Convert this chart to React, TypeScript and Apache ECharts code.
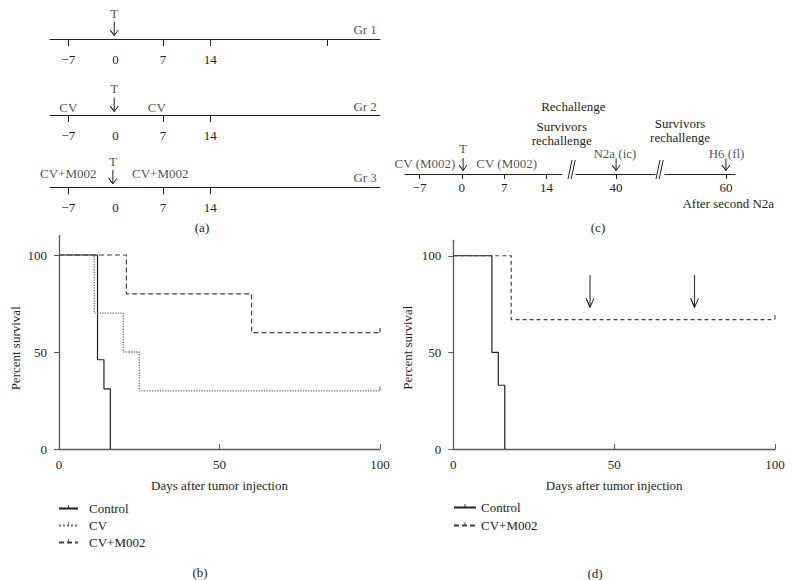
import React, { useEffect, useRef } from 'react';
import * as echarts from 'echarts';

const FONT = 'Liberation Serif, DejaVu Serif, serif';
const INK = '#231f20';
const AXIS_GRAY = '#58595b';

type Note = [number, number, string];

// ---------- Panel (a): treatment timelines ----------
const timelineLabelDays = [-7, 0, 7, 14];
const gr1TickDays = [-7, 7, 14, 31.3];
const gr2TickDays = [-7, 7, 14];
const gr3TickDays = [-7, 7, 14];
// [day, height above the line (px), text]
const gr1Notes: Note[] = [[-0.2, 26, 'T'], [36.9, 10, 'Gr 1']];
const gr2Notes: Note[] = [[-7, 8, 'CV'], [6.1, 8, 'CV'], [-0.2, 27, 'T'], [36.9, 9, 'Gr 2']];
const gr3Notes: Note[] = [[-7, 14, 'CV+M002'], [6.6, 14, 'CV+M002'], [-0.4, 26, 'T'], [36.9, 10, 'Gr 3']];
const gr1ArrowDays = [-0.2];
const gr2ArrowDays = [-0.2];
const gr3ArrowDays = [-0.4];

// ---------- Panel (c): rechallenge timeline ----------
const cSeg1Ticks = [-7, 0, 7, 14];
const cSeg2Ticks = [40];
const cSeg3Ticks = [60];
const cSeg1Notes: Note[] = [[-6.1, 11, 'CV (M002)'], [7.4, 11, 'CV (M002)'], [0.2, 26, 'T']];
const cSeg2Notes: Note[] = [[39.8, 21, 'N2a (ic)']];
const cSeg3Notes: Note[] = [[60.1, 21, 'H6 (fl)']];
const cSeg1ArrowDays = [0.2];
const cSeg2ArrowDays = [40];
const cSeg3ArrowDays = [60];

// ---------- Panel (b): survival ----------
const bControlDays = [0, 12, 14, 16];
const bControlSurv = [100, 46, 31, 0];
const bCvDays = [0, 11, 20, 25, 100];
const bCvSurv = [100, 70, 50, 30, 30];
const bCvmDays = [0, 21, 60, 100];
const bCvmSurv = [100, 80, 60, 60];

// ---------- Panel (d): survival ----------
const dControlDays = [0, 12, 14, 16];
const dControlSurv = [100, 50, 33, 0];
const dCvmDays = [0, 18, 100];
const dCvmSurv = [100, 67, 67];
const dRechallengeDays = [42.5, 75];
const dArrowTop = 90;
const dArrowTip = 73.3;

const survivalTicks = [0, 50, 100];
const dayTicks = [0, 50, 100];

const TICK_SYMBOL =
  'path://M0,0L0.01,0L0,0.01ZM10,10L9.99,10L10,9.99ZM4.45,0.5L5.55,0.5L5.55,5L4.45,5Z';

const fmtDay = (v: number) => (v < 0 ? '\u2212' + Math.abs(v) : String(v));

const TL_H = 36; // px above each timeline line covered by its grid (1 unit = 1 px)

function timelineGrid(left: number, width: number, lineY: number) {
  return { left, width, top: lineY - TL_H, height: TL_H };
}
function timelineX(gridIndex: number, min: number, max: number, ticks: number[], labels: number[], tickLen: number, margin: number) {
  return {
    type: 'value', gridIndex, min, max,
    axisLine: { show: true, onZero: false, lineStyle: { color: INK, width: 1 } },
    axisTick: { show: true, length: tickLen, customValues: ticks, lineStyle: { color: INK, width: 1 } },
    axisLabel: { show: true, customValues: labels, formatter: fmtDay, margin, color: INK, fontFamily: FONT, fontSize: 13 },
    splitLine: { show: false },
  };
}
function timelineY(gridIndex: number) {
  return { type: 'value', gridIndex, min: 0, max: TL_H, show: false };
}
function notesSeries(notes: Note[], idx: number) {
  return {
    type: 'scatter', xAxisIndex: idx, yAxisIndex: idx, symbolSize: 1, silent: true, clip: false,
    itemStyle: { color: 'rgba(0,0,0,0)' },
    data: notes.map((n) => ({ value: [n[0], n[1]], name: n[2] })),
    label: { show: true, position: 'inside', formatter: (p: any) => p.name, color: INK, fontFamily: FONT, fontSize: 13 },
  };
}
// small "down" arrows in the timelines
function timelineArrows(days: number[], idx: number, halfHead: number, top: number) {
  return days.map((d) => ({
    type: 'line', xAxisIndex: idx, yAxisIndex: idx, symbol: 'none', silent: true,
    data: [[d, top], [d, 3.5], [d - halfHead, 9], [d, 3.5], [d + halfHead, 9]],
    lineStyle: { color: INK, width: 1 },
  }));
}
function kmSeries(name: string, days: number[], surv: number[], idx: number, color: string, type: any, width: number) {
  return {
    type: 'line', name, xAxisIndex: idx, yAxisIndex: idx, step: 'end',
    symbol: TICK_SYMBOL, symbolSize: 10, showSymbol: true, silent: true,
    data: days.map((d, i) => ({
      value: [d, surv[i]],
      symbol: i === days.length - 1 && surv[i] > 0 ? TICK_SYMBOL : 'none',
    })),
    lineStyle: { color, width, type },
    itemStyle: { color },
  };
}
function arrowSeries(day: number, idx: number) {
  return {
    type: 'line', xAxisIndex: idx, yAxisIndex: idx, symbol: 'none', silent: true,
    data: [[day, dArrowTop], [day, dArrowTip], [day - 1.2, dArrowTip + 4.6], [day, dArrowTip], [day + 1.2, dArrowTip + 4.6]],
    lineStyle: { color: INK, width: 1 },
  };
}
function kmX(gridIndex: number) {
  return {
    type: 'value', gridIndex, min: 0, max: 100, interval: 50,
    axisLine: { lineStyle: { color: AXIS_GRAY, width: 1.3 } },
    axisTick: { inside: true, length: 5, customValues: dayTicks, lineStyle: { color: AXIS_GRAY } },
    axisLabel: { customValues: dayTicks, margin: 9, color: INK, fontFamily: FONT, fontSize: 13 },
    splitLine: { show: false },
    name: 'Days after tumor injection', nameLocation: 'middle', nameGap: 30,
    nameTextStyle: { color: INK, fontFamily: FONT, fontSize: 13 },
  };
}
function kmY(gridIndex: number, max: number, nameGap: number, shift: number) {
  return {
    type: 'value', gridIndex, min: 0, max, interval: 50,
    axisLine: { show: true, lineStyle: { color: AXIS_GRAY, width: 1.3 } },
    axisTick: { show: true, length: 5, customValues: survivalTicks, lineStyle: { color: AXIS_GRAY } },
    axisLabel: { customValues: survivalTicks, margin: 12, color: INK, fontFamily: FONT, fontSize: 13 },
    splitLine: { show: false },
    name: 'Percent survival', nameLocation: 'middle', nameGap,
    nameTextStyle: { color: INK, fontFamily: FONT, fontSize: 13, padding: [0, shift, 0, 0] },
  };
}
function txt(x: number, y: number, text: string) {
  return {
    type: 'text', x, y, silent: true,
    style: {
      text, fill: INK, fontFamily: FONT, fontSize: 13,
      align: 'center', verticalAlign: 'middle', textAlign: 'center', textVerticalAlign: 'middle',
    },
  };
}
function brk(x: number) {
  return [
    { type: 'line', silent: true, shape: { x1: x, y1: 179, x2: x + 4, y2: 160 }, style: { stroke: INK, lineWidth: 1 } },
    { type: 'line', silent: true, shape: { x1: x + 3.2, y1: 179, x2: x + 7.2, y2: 160 }, style: { stroke: INK, lineWidth: 1 } },
  ];
}

export default function App() {
  const ref = useRef<HTMLDivElement>(null);
  useEffect(() => {
    if (!ref.current) return;
    const chart = echarts.init(ref.current, null, { renderer: 'svg' });
    const legendText = { color: INK, fontFamily: FONT, fontSize: 13 };
    chart.setOption({
      animation: false,
      backgroundColor: '#ffffff',
      textStyle: { fontFamily: FONT },
      grid: [
        timelineGrid(50, 330, 39),
        timelineGrid(50, 330, 115),
        timelineGrid(50, 330, 187.3),
        timelineGrid(405, 156.7, 174),
        timelineGrid(576, 79, 174),
        timelineGrid(665, 70, 174),
        { left: 59, top: 235.6, width: 321, height: 213.4 },
        { left: 453.3, top: 240.3, width: 321.7, height: 208.7 },
      ],
      xAxis: [
        timelineX(0, -9.7, 39.1, gr1TickDays, timelineLabelDays, 7, 14),
        timelineX(1, -9.7, 39.1, gr2TickDays, timelineLabelDays, 7, 14),
        timelineX(2, -9.7, 39.1, gr3TickDays, timelineLabelDays, 7, 14),
        timelineX(3, -9.4, 16.5, cSeg1Ticks, cSeg1Ticks, 5, 7),
        timelineX(4, 33.4, 46.4, cSeg2Ticks, cSeg2Ticks, 5, 7),
        timelineX(5, 49.9, 61.5, cSeg3Ticks, cSeg3Ticks, 5, 7),
        kmX(6),
        kmX(7),
      ],
      yAxis: [
        timelineY(0), timelineY(1), timelineY(2), timelineY(3), timelineY(4), timelineY(5),
        kmY(6, 110, 37, 12),
        kmY(7, 108, 39, 6),
      ],
      legend: [
        {
          orient: 'vertical', left: 58, top: 502, itemWidth: 19, itemHeight: 10, itemGap: 4, padding: 0,
          data: ['Control', 'CV', 'CV+M002'], selectedMode: false,
          textStyle: { ...legendText, padding: [0, 0, 0, 6] },
        },
        {
          orient: 'vertical', left: 453, top: 501, itemWidth: 22, itemHeight: 10, itemGap: 5, padding: 0,
          data: ['Control', 'CV+M002'], selectedMode: false,
          textStyle: legendText,
        },
      ],
      series: [
        notesSeries(gr1Notes, 0),
        notesSeries(gr2Notes, 1),
        notesSeries(gr3Notes, 2),
        notesSeries(cSeg1Notes, 3),
        notesSeries(cSeg2Notes, 4),
        notesSeries(cSeg3Notes, 5),
        ...timelineArrows(gr1ArrowDays, 0, 0.6, 17.5),
        ...timelineArrows(gr2ArrowDays, 1, 0.6, 17.5),
        ...timelineArrows(gr3ArrowDays, 2, 0.6, 17.5),
        ...timelineArrows(cSeg1ArrowDays, 3, 0.66, 16),
        ...timelineArrows(cSeg2ArrowDays, 4, 0.66, 15.5),
        ...timelineArrows(cSeg3ArrowDays, 5, 0.66, 15.5),
        kmSeries('Control', bControlDays, bControlSurv, 6, INK, 'solid', 1.2),
        kmSeries('CV', bCvDays, bCvSurv, 6, '#6d6e71', 'dotted', 1.3),
        kmSeries('CV+M002', bCvmDays, bCvmSurv, 6, '#414042', [5, 3], 1.2),
        kmSeries('Control', dControlDays, dControlSurv, 7, INK, 'solid', 1.2),
        kmSeries('CV+M002', dCvmDays, dCvmSurv, 7, '#414042', [4, 3], 1.2),
        ...dRechallengeDays.map((d) => arrowSeries(d, 7)),
      ],
      graphic: [
        txt(202, 227, '(a)'),
        txt(598, 227, '(c)'),
        txt(200, 572, '(b)'),
        txt(595, 573, '(d)'),
        txt(573.3, 106, 'Rechallenge'),
        txt(561.7, 126.5, 'Survivors'),
        txt(561.7, 140.5, 'rechallenge'),
        txt(680, 123, 'Survivors'),
        txt(680, 137, 'rechallenge'),
        txt(728.3, 203.5, 'After second N2a'),
        ...brk(568),
        ...brk(656),
      ],
    });
    return () => chart.dispose();
  }, []);
  return (
    <div
      ref={ref}
      style={{ position: 'absolute', left: 0, top: 0, width: 792, height: 580, background: '#fff' }}
    />
  );
}
